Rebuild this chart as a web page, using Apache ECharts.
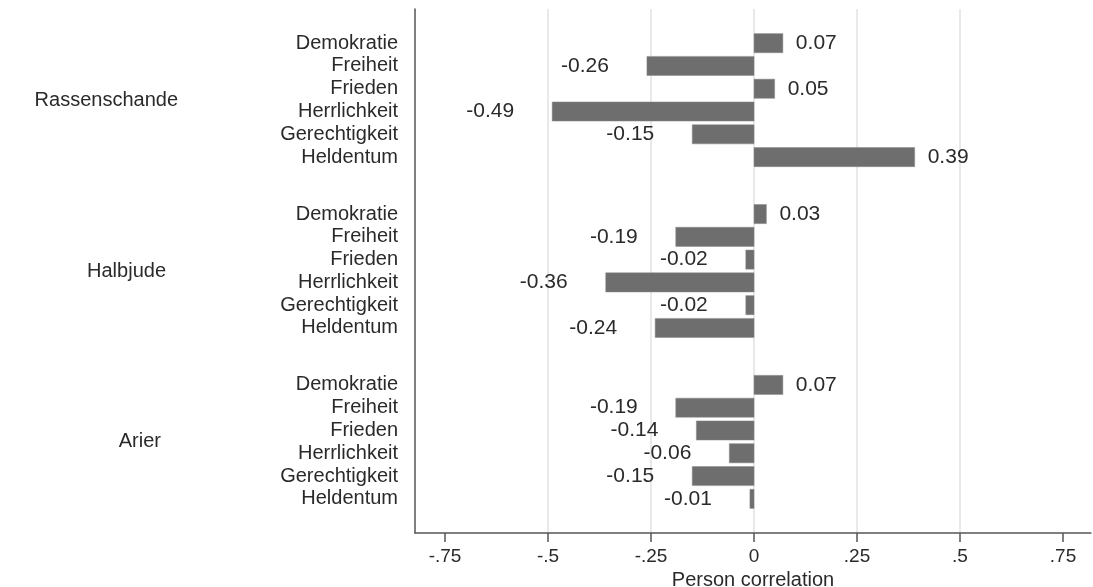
<!DOCTYPE html>
<html>
<head>
<meta charset="utf-8">
<script src="https://cdn.jsdelivr.net/npm/echarts@6/dist/echarts.min.js"></script>
<style>
html,body{margin:0;padding:0;background:#fff;}
#chart{width:1093px;height:587px;}
</style>
</head>
<body>
<div id="chart"></div>
<script>
const groups = ['Rassenschande', 'Halbjude', 'Arier'];
const items = ['Demokratie', 'Freiheit', 'Frieden', 'Herrlichkeit', 'Gerechtigkeit', 'Heldentum'];
const rassenschande = [0.07, -0.26, 0.05, -0.49, -0.15, 0.39];
const halbjude = [0.03, -0.19, -0.02, -0.36, -0.02, -0.24];
const arier = [0.07, -0.19, -0.14, -0.06, -0.15, -0.01];
const xTicks = [-0.75, -0.5, -0.25, 0, 0.25, 0.5, 0.75];
const xTickLabels = ['-.75', '-.5', '-.25', '0', '.25', '.5', '.75'];
const xTitle = 'Person correlation';

const groupValues = [rassenschande, halbjude, arier];
const GROUP_STEP = 7.5;
const data = [];
const rowPos = [];
const rowNames = [];
groupValues.forEach((vals, g) => {
  vals.forEach((v, i) => {
    const p = g * GROUP_STEP + i;
    data.push([v, p]);
    rowPos.push(p);
    rowNames.push(items[i]);
  });
});
const groupPos = groups.map((_, g) => g * GROUP_STEP + (items.length - 1) / 2);

const textColor = '#2a2a2a';
const font = 'Liberation Sans, Arial, sans-serif';

const chart = echarts.init(document.getElementById('chart'), null, {renderer: 'canvas'});
chart.setOption({
  animation: false,
  backgroundColor: '#ffffff',
  grid: {left: 415, right: 2, top: 9, bottom: 54, containLabel: false, outerBoundsMode: 'none'},
  xAxis: {
    type: 'value',
    min: -0.823,
    max: 0.818,
    name: xTitle,
    nameLocation: 'middle',
    nameGap: 34,
    nameTextStyle: {fontSize: 20, color: textColor, fontFamily: font},
    axisLine: {show: true, onZero: false, lineStyle: {color: '#555', width: 1.5}},
    axisTick: {show: true, length: 9, lineStyle: {color: '#555', width: 1.5}, customValues: xTicks},
    axisLabel: {
      customValues: xTicks,
      fontSize: 19, color: textColor, fontFamily: font, margin: 14,
      formatter: (v, idx) => xTickLabels[xTicks.indexOf(v)] ?? xTickLabels[idx]
    },
    splitLine: {
      show: true,
      lineStyle: {color: ['rgba(0,0,0,0)', '#e2e2e2', '#e2e2e2', '#e2e2e2', '#e2e2e2', '#e2e2e2', 'rgba(0,0,0,0)'], width: 1.5}
    }
  },
  yAxis: [{
    type: 'value',
    inverse: true,
    min: -1.5,
    max: 21.5,
    axisLine: {show: true, onZero: false, lineStyle: {color: '#555', width: 1.5}},
    axisTick: {show: false},
    splitLine: {show: false},
    axisLabel: {
      customValues: rowPos,
      fontSize: 20, color: textColor, fontFamily: font, margin: 17,
      formatter: (v, idx) => {
        const k = rowPos.indexOf(v);
        return k >= 0 ? rowNames[k] : '';
      }
    }
  }, {
    type: 'value',
    inverse: true,
    position: 'left',
    min: -1.5,
    max: 21.5,
    axisLine: {show: false, onZero: false},
    axisTick: {show: false},
    splitLine: {show: false},
    axisLabel: {
      customValues: groupPos,
      fontSize: 20, color: textColor, fontFamily: font, margin: 237,
      align: 'right',
      formatter: (v) => {
        const g = groupPos.indexOf(v);
        return '{g' + g + '|' + groups[g] + '}';
      },
      rich: {
        g0: {fontSize: 20, color: textColor, fontFamily: font, padding: [0, 0, 0, 0]},
        g1: {fontSize: 20, color: textColor, fontFamily: font, padding: [0, 12, 0, 0]},
        g2: {fontSize: 20, color: textColor, fontFamily: font, padding: [0, 17, 0, 0]}
      }
    }
  }],
  series: [{
    type: 'custom',
    xAxisIndex: 0,
    yAxisIndex: 0,
    encode: {x: 0, y: 1},
    data: data,
    renderItem: function (params, api) {
      const v = api.value(0);
      const p = api.value(1);
      const a = api.coord([0, p]);
      const b = api.coord([v, p]);
      const h = api.size([0, 0.84])[1];
      const x0 = Math.min(a[0], b[0]);
      const w = Math.max(Math.abs(b[0] - a[0]), 1);
      const pos = v >= 0;
      return {
        type: 'group',
        children: [{
          type: 'rect',
          shape: {x: x0, y: a[1] - h / 2, width: w, height: h},
          style: {fill: '#6e6e6e', stroke: '#8a8a8a', lineWidth: 0.5}
        }, {
          type: 'text',
          x: pos ? b[0] + 13 : b[0] - 38,
          y: b[1],
          style: {
            text: v.toFixed(2),
            fill: textColor,
            font: '21px ' + font,
            align: pos ? 'left' : 'right',
            verticalAlign: 'middle'
          }
        }]
      };
    }
  }]
});
</script>
</body>
</html>
